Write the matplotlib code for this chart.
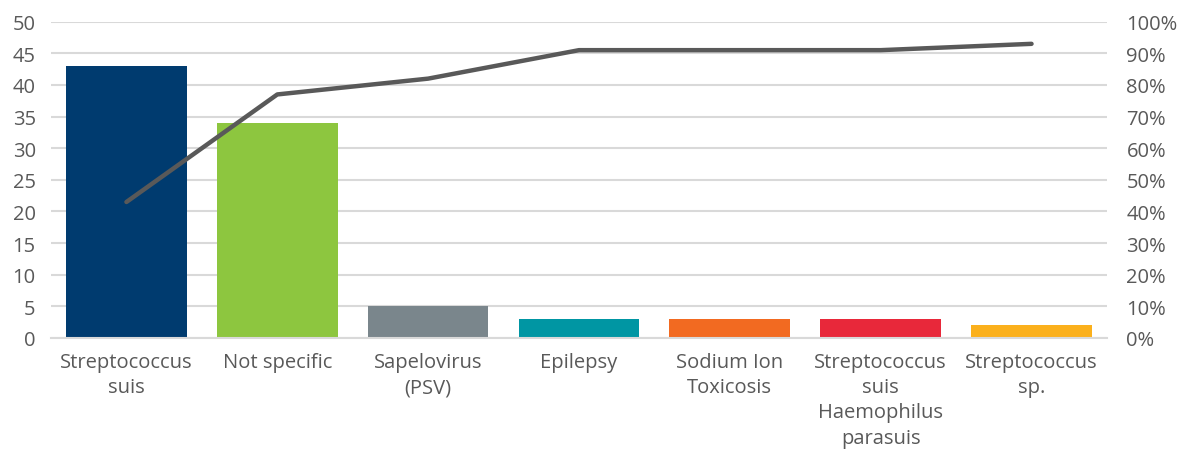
import matplotlib
matplotlib.use("Agg")
import matplotlib.pyplot as plt
from matplotlib.ticker import FuncFormatter

plt.rcParams["font.family"] = ["Open Sans", "DejaVu Sans"]

categories = [
    "Streptococcus\nsuis",
    "Not specific",
    "Sapelovirus\n(PSV)",
    "Epilepsy",
    "Sodium Ion\nToxicosis",
    "Streptococcus\nsuis\nHaemophilus\nparasuis",
    "Streptococcus\nsp.",
]
counts = [43, 34, 5, 3, 3, 3, 2]
cumulative_pct = [43, 77, 82, 91, 91, 91, 93]
bar_colors = ["#003B6F", "#8DC63F", "#7A868C", "#0096A3", "#F26A21", "#E8283A", "#FBB01C"]

text_color = "#595959"
grid_color = "#D9D9D9"

fig = plt.figure(figsize=(11.78, 4.52), dpi=100)
ax = fig.add_axes([0.0433, 0.25, 0.8964, 0.6998])
x = range(len(categories))
ax.bar(x, counts, width=0.8, color=bar_colors, zorder=2)
ax.set_xlim(-0.5, len(categories) - 0.5)
ax.set_ylim(0, 50)
ax.set_yticks(range(0, 51, 5))
ax.set_xticks(list(x))
ax.set_xticklabels(categories, linespacing=1.35)
ax.grid(axis="y", color=grid_color, linewidth=1.5, zorder=0)
ax.set_axisbelow(True)
for s in ["top", "right", "left"]:
    ax.spines[s].set_visible(False)
ax.spines["bottom"].set_color(grid_color)
ax.spines["bottom"].set_linewidth(1.5)
ax.tick_params(axis="both", length=0, labelsize=14.5, colors=text_color)
ax.tick_params(axis="y", pad=11)
ax.tick_params(axis="x", pad=10)

ax2 = ax.twinx()
ax2.plot(list(x), cumulative_pct, color="#595959", linewidth=3.2,
         solid_capstyle="round", solid_joinstyle="round", zorder=3)
ax2.set_ylim(0, 100)
ax2.set_yticks(range(0, 101, 10))
ax2.yaxis.set_major_formatter(FuncFormatter(lambda v, p: f"{int(v)}%"))
for s in ax2.spines.values():
    s.set_visible(False)
ax2.tick_params(axis="y", length=0, labelsize=14.5, colors=text_color, pad=14)

fig.savefig("out.png", dpi=100, facecolor="white")
